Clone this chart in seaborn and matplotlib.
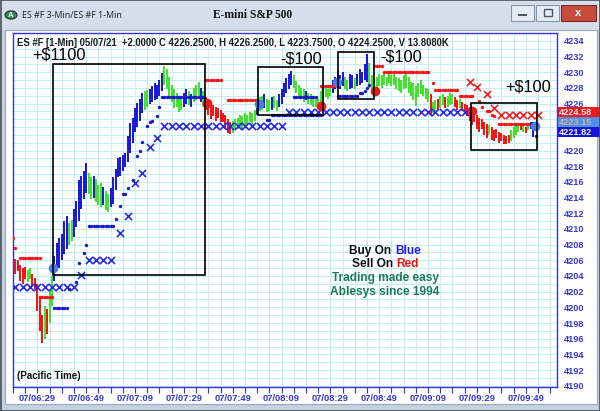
import numpy as np
import pandas as pd
import matplotlib
matplotlib.use("Agg")
import matplotlib.pyplot as plt
from matplotlib.patches import Rectangle, Circle
import seaborn as sns

# ---------------- data ----------------
# one-minute bars, minute 0 = 06:29
first_minute = -10
bar_colors = ("rrrrrrggrr" "rrrgrggbbb" "bbbggbbbbb" "bggbgggbgg" "bbbbbbbbbb"
              "bbbbggbbbb" "bbgggggggg" "bbgbgggbgr" "rrrrrrrrrr" "gggggggggg"
              "bggbggbggb" "bbbbbggggg" "bggggggggg" "gbbbbbggbb" "gbbbbbgggg"
              "gggggggggg" "gggggggggg" "grggrggrgg" "grrgrrrrrr" "rrrrrgrrrr"
              "rrrrggggrg" "rgbb")
bar_low = [
    4204.8, 4204.2, 4204.6, 4203.4, 4203.0, 4203.6, 4203.2, 4203.6, 4202.6, 4202.4,
    4199.5, 4197.0, 4195.4, 4196.0, 4196.6, 4198.0, 4200.2, 4203.4, 4204.6, 4205.0,
    4206.0, 4206.8, 4207.4, 4208.0, 4208.4, 4209.0, 4210.2, 4211.0, 4212.6, 4213.8,
    4214.6, 4214.4, 4213.8, 4214.0, 4213.4, 4213.0, 4212.8, 4213.0, 4212.4, 4212.2,
    4212.8, 4213.2, 4215.0, 4216.6, 4216.8, 4217.4, 4217.9, 4218.6, 4219.7, 4221.0,
    4222.4, 4223.0, 4223.8, 4224.8, 4225.2, 4225.6, 4226.0, 4226.2, 4226.4, 4226.6,
    4227.0, 4227.6, 4228.4, 4227.8, 4226.6, 4226.2, 4225.4, 4225.6, 4224.9, 4225.2,
    4225.6, 4226.0, 4225.8, 4225.6, 4226.2, 4226.4, 4226.8, 4226.2, 4225.6, 4225.2,
    4224.6, 4224.0, 4224.4, 4223.8, 4224.2, 4223.7, 4223.6, 4222.8, 4222.2, 4222.1,
    4222.3, 4222.6, 4222.8, 4223.0, 4222.8, 4223.2, 4223.4, 4223.6, 4223.2, 4223.8,
    4224.6, 4225.0, 4225.2, 4225.4, 4224.9, 4225.0, 4225.2, 4225.4, 4225.0, 4225.6,
    4226.0, 4226.8, 4227.4, 4227.8, 4228.4, 4228.0, 4227.4, 4226.8, 4226.6, 4226.2,
    4226.4, 4226.0, 4225.8, 4225.5, 4225.6, 4225.4, 4225.8, 4226.4, 4226.8, 4226.6,
    4227.0, 4227.4, 4227.8, 4228.0, 4227.8, 4228.2, 4227.8, 4227.6, 4227.8, 4228.0,
    4227.8, 4228.2, 4228.4, 4228.6, 4229.0, 4228.8, 4228.0, 4227.4, 4227.6, 4228.0,
    4228.2, 4228.0, 4228.4, 4228.2, 4228.6, 4228.2, 4228.4, 4227.8, 4227.6, 4227.4,
    4227.8, 4228.0, 4227.4, 4227.0, 4226.4, 4225.7, 4226.8, 4227.2, 4227.0, 4226.6,
    4226.2, 4224.6, 4224.8, 4225.0, 4225.2, 4225.4, 4225.8, 4225.4, 4225.6, 4225.8,
    4226.0, 4225.6, 4225.2, 4225.4, 4225.0, 4224.8, 4224.4, 4223.8, 4223.2, 4223.6,
    4222.8, 4222.4, 4222.8, 4222.0, 4221.6, 4222.0, 4221.4, 4221.2, 4221.6, 4221.0,
    4221.2, 4220.9, 4220.8, 4221.0, 4221.2, 4221.6, 4222.0, 4222.4, 4222.6, 4222.4,
    4222.2, 4222.6, 4222.8, 4221.7]
bar_high = [
    4207.0, 4206.2, 4206.0, 4205.4, 4205.0, 4205.2, 4204.8, 4205.0, 4204.2, 4203.8,
    4203.0, 4201.5, 4199.0, 4200.2, 4199.8, 4202.2, 4204.0, 4206.6, 4208.2, 4208.8,
    4209.4, 4211.0, 4211.6, 4210.8, 4211.2, 4212.6, 4213.6, 4216.2, 4216.8, 4217.4,
    4218.4, 4217.2, 4216.6, 4216.8, 4216.4, 4215.6, 4215.8, 4215.4, 4214.8, 4214.4,
    4215.2, 4216.6, 4217.6, 4219.0, 4219.2, 4219.4, 4219.7, 4221.8, 4223.5, 4224.2,
    4225.4, 4226.1, 4226.6, 4227.4, 4227.6, 4227.7, 4227.9, 4228.2, 4228.6, 4228.4,
    4229.0, 4229.9, 4230.8, 4230.4, 4229.4, 4228.4, 4227.8, 4227.4, 4226.6, 4226.8,
    4227.4, 4227.8, 4227.6, 4227.2, 4228.0, 4228.4, 4228.8, 4228.0, 4227.6, 4226.8,
    4226.6, 4226.0, 4225.8, 4225.6, 4225.4, 4225.2, 4224.8, 4224.6, 4224.0, 4223.6,
    4223.8, 4224.0, 4224.2, 4224.6, 4224.4, 4224.8, 4224.6, 4224.9, 4224.8, 4225.2,
    4226.6, 4226.8, 4227.0, 4227.2, 4226.6, 4226.4, 4226.8, 4227.0, 4226.4, 4227.2,
    4227.8, 4228.6, 4229.2, 4229.8, 4230.2, 4229.6, 4228.9, 4228.4, 4228.0, 4227.8,
    4227.6, 4227.4, 4227.2, 4226.8, 4227.0, 4226.6, 4227.6, 4228.0, 4228.2, 4227.8,
    4228.4, 4229.0, 4229.4, 4230.2, 4229.6, 4230.0, 4229.4, 4229.0, 4229.8, 4229.6,
    4229.2, 4229.8, 4230.4, 4230.0, 4231.0, 4232.3, 4231.2, 4229.6, 4229.2, 4229.4,
    4229.8, 4229.6, 4229.8, 4229.4, 4230.0, 4229.6, 4229.8, 4229.4, 4229.2, 4229.0,
    4229.6, 4230.0, 4229.4, 4228.8, 4228.6, 4228.2, 4228.6, 4229.0, 4228.4, 4228.0,
    4227.8, 4227.2, 4226.2, 4226.4, 4226.6, 4227.0, 4227.2, 4226.8, 4227.0, 4227.4,
    4227.2, 4226.8, 4226.4, 4226.6, 4226.2, 4226.0, 4225.8, 4225.6, 4225.2, 4225.0,
    4224.6, 4224.2, 4224.0, 4223.6, 4223.4, 4223.2, 4223.0, 4222.6, 4222.8, 4222.4,
    4222.2, 4222.0, 4221.8, 4222.0, 4222.6, 4223.0, 4223.4, 4223.4, 4223.4, 4223.2,
    4223.0, 4223.4, 4223.6, 4223.6]

# stop levels held flat over a run of minutes: (first, last, level)
blue_dot_runs = [(7, 12, 4199.9), (21, 31, 4210.4), (52, 68, 4226.8),
                 (96, 116, 4224.6), (105, 114, 4226.85), (123, 131, 4227.0)]
blue_dot_single = [(13, 4202.3), (16, 4203.2), (17, 4205.7), (19, 4206.9), (20, 4208.0),
                   (32, 4211.3), (34, 4212.9), (35, 4214.4), (36, 4214.5), (37, 4215.2),
                   (39, 4216.3), (41, 4219.3), (42, 4219.9), (43, 4221.1), (45, 4223.1),
                   (46, 4223.6), (47, 4223.8), (49, 4224.4), (50, 4225.5), (51, 4226.8),
                   (94, 4223.9), (95, 4223.9), (132, 4227.3), (133, 4227.3),
                   (134, 4227.6), (135, 4228.0), (136, 4228.4), (204, 4221.82)]
red_dot_runs = [(-7, 1, 4206.3), (1, 6, 4201.3), (69, 75, 4229.0), (78, 90, 4226.5),
                (116, 122, 4228.3), (138, 141, 4230.8), (142, 160, 4230.0),
                (163, 172, 4227.7), (173, 178, 4226.9), (189, 201, 4223.4)]
red_dot_single = [(-10, 4208.9), (-9, 4207.6), (162, 4228.6), (181, 4226.3),
                  (182, 4225.5), (184, 4225.1), (185, 4225.0), (186, 4224.5), (187, 4224.4)]
# 3-minute stop markers: (first, last, level), one every 3 minutes
blue_x_runs = [(-9, 15, 4202.6), (21, 30, 4206.0), (52, 100, 4223.1), (103, 175, 4224.9)]
blue_x_single = [(18, 4204.1), (34, 4209.5), (37, 4211.6), (40, 4215.9), (43, 4217.2),
                 (46, 4220.4), (49, 4221.6)]
red_x_runs = [(190, 205, 4224.58)]
red_x_single = [(177, 4228.8), (180, 4228.1), (184, 4227.2), (187, 4225.4)]

# trade signals
buy_minute = [6.55, 90.9, 122.6, 203.8]
buy_price = [4205.06, 4225.92, 4228.8, 4223.15]
sell_minute = [69.4, 116.05, 138.3, 177.8]
sell_price = [4226.05, 4225.74, 4227.6, 4225.0]

# trade boxes: (start minute, end minute, low, high, result)
trades = [(6.55, 68.7, 4204.13, 4231.06, "+$1100"),
          (90.25, 116.87, 4224.55, 4230.6, "-$100"),
          (123.0, 138.0, 4226.6, 4232.56, "-$100"),
          (177.5, 204.5, 4220.08, 4226.05, "+$100")]
trade_label_pos = [(8.9, 4232.2), (108.2, 4231.7), (149.1, 4231.9), (201.1, 4228.06)]

x_tick_minutes = [0, 20, 40, 60, 80, 100, 120, 140, 160, 180, 200]
x_tick_labels = ["07/06:29", "07/06:49", "07/07:09", "07/07:29", "07/07:49", "07/08:09",
                 "07/08:29", "07/08:49", "07/09:09", "07/09:29", "07/09:49"]
y_ticks = list(range(4190, 4235, 2))

tag_values = [4224.58, 4223.15, 4221.82]

# ---------------- style ----------------
sns.set_theme(style="white")
plt.rcParams["font.family"] = ["Liberation Sans", "DejaVu Sans"]

W, H = 600, 411
fig = plt.figure(figsize=(6, 4.11), dpi=100)
fig.patch.set_facecolor("#c4d1e0")


def fx(x):
    return x / W


def fy(y):
    return 1 - y / H


def fig_rect(x0, y0, x1, y1, z=-1, **kw):
    r = Rectangle((fx(x0), fy(y1)), (x1 - x0) / W, (y1 - y0) / H,
                  transform=fig.transFigure, zorder=z, **kw)
    fig.add_artist(r)
    return r


# window frame
fig_rect(0, 0, 600, 30, facecolor="#d4dfeb", edgecolor="none")
fig_rect(5, 30, 597, 404, facecolor="white", edgecolor="#9aa8ba", linewidth=0.8)
fig_rect(0.5, 0.5, 599.5, 410.5, facecolor="none", edgecolor="#4a4f58", linewidth=1.2, z=10)

# title bar
fig.add_artist(Circle((fx(11), fy(15)), 6 / W, transform=fig.transFigure,
                      facecolor="#2f8f55", edgecolor="#2a2a2a", lw=0.8, zorder=3))
fig.text(fx(11), fy(15.5), "A", fontsize=5.5, color="white", ha="center", va="center",
         fontweight="bold", zorder=4)
fig.text(fx(22), fy(15), "ES #F 3-Min/ES #F 1-Min", fontsize=6.4, color="#1e1e1e",
         ha="left", va="center", family=["Open Sans", "DejaVu Sans"])
fig.text(fx(253), fy(15), "E-mini S&P 500", fontsize=8.3, color="#111111",
         ha="center", va="center", fontweight="bold", family=["Liberation Serif", "DejaVu Serif"])
for (b0, b1, fc, ec) in [(511, 534, "#e4ebf3", "#8796ab"), (536, 559, "#e4ebf3", "#8796ab"),
                         (561, 596, "#c94b3f", "#7d2b25")]:
    fig_rect(b0, 5, b1, 21, facecolor=fc, edgecolor=ec, linewidth=0.8, z=3)
fig_rect(518, 14, 527, 16.5, facecolor="#4b5563", edgecolor="none", z=4)
fig_rect(543.5, 9.5, 551.5, 16.5, facecolor="none", edgecolor="#4b5563", linewidth=1.0, z=4)
fig.text(fx(578.5), fy(13.5), "x", fontsize=8, color="white", ha="center", va="center",
         fontweight="bold", zorder=5)

# ---------------- chart ----------------
blue_axis = "#3434d2"
grid_c = "#c2eef4"
ax = fig.add_axes([fx(12.7), fy(386.5), (557 - 12.7) / W, (386.5 - 33) / H])
ax.set_facecolor("white")

# price bars (crisp one-pixel strokes)
palette = {"r": "#f41515", "g": "#44e032", "b": "#1c1cd8"}
minutes = np.arange(first_minute, first_minute + len(bar_low))
bars = pd.DataFrame({"minute": minutes, "low": bar_low, "high": bar_high,
                     "color": [palette[c] for c in bar_colors]})
ax.vlines(bars["minute"], bars["low"], bars["high"], colors=bars["color"], lw=1.2,
          antialiased=False, zorder=2)


def expand(runs, singles, step=1):
    xs, ys = [], []
    for a, b, lvl in runs:
        for m in range(a, b + 1, step):
            xs.append(m)
            ys.append(lvl)
    for m, lvl in singles:
        xs.append(m)
        ys.append(lvl)
    return pd.DataFrame({"minute": xs, "price": ys})


bd = expand(blue_dot_runs, blue_dot_single)
rd = expand(red_dot_runs, red_dot_single)
bx = expand(blue_x_runs, blue_x_single, 3)
rx = expand(red_x_runs, red_x_single, 3)

sns.scatterplot(data=bx, x="minute", y="price", ax=ax, marker="x", s=26, linewidth=1.2,
                color="#2a2ae0", legend=False, zorder=3)
sns.scatterplot(data=rx, x="minute", y="price", ax=ax, marker="x", s=26, linewidth=1.2,
                color="#f02020", legend=False, zorder=3)
sns.scatterplot(data=bd, x="minute", y="price", ax=ax, marker="o", s=6, linewidth=0,
                color="#1a1ac8", legend=False, zorder=4)
sns.scatterplot(data=rd, x="minute", y="price", ax=ax, marker="o", s=6, linewidth=0,
                color="#f01818", legend=False, zorder=4)
sns.scatterplot(x=buy_minute, y=buy_price, ax=ax, marker="o", s=48, linewidth=0,
                color="#4a7fe6", legend=False, zorder=5)
sns.scatterplot(x=sell_minute, y=sell_price, ax=ax, marker="o", s=48, linewidth=0,
                color="#e81a1a", legend=False, zorder=5)

for (m0, m1, lo, hi, label), (lx, ly) in zip(trades, trade_label_pos):
    ax.add_patch(Rectangle((m0, lo), m1 - m0, hi - lo, fill=False, edgecolor="black",
                           linewidth=1.2, zorder=6))
    ax.text(lx, ly, label, fontsize=11.8, color="black", ha="center", va="center", zorder=7)

ax.set_xlabel("")
ax.set_ylabel("")
ax.set_xlim(-10.1, 212.8)
ax.set_ylim(4189.9, 4235.0)

# scale labels; the two levels under the value tags stay blank
ax.set_xticks(x_tick_minutes, x_tick_labels)
ax.set_xticks(np.arange(-10, 211, 5), minor=True)
ax.set_yticks(y_ticks, ["" if v in (4222, 4224) else str(v) for v in y_ticks])
ax.set_yticks(np.arange(4190, 4236, 1), minor=True)
ax.yaxis.tick_right()
ax.grid(True, which="both", color=grid_c, linewidth=0.75)
ax.set_axisbelow(True)
ax.tick_params(axis="x", which="both", direction="out", length=4, width=0.8,
               color=blue_axis, labelsize=6.7, labelcolor=blue_axis, pad=1.5, bottom=True)
ax.tick_params(axis="y", which="both", length=0, labelsize=6.6, labelcolor="#3a3ad0", pad=5.3)
for t in ax.get_xticklabels() + ax.get_yticklabels():
    t.set_fontweight("bold")
for s in ax.spines.values():
    s.set_color(blue_axis)
    s.set_linewidth(1.0)

# header line and notes
fig.text(fx(17), fy(42.5),
         "ES #F [1-Min] 05/07/21  +2.0000 C 4226.2500, H 4226.2500, L 4223.7500, O 4224.2500, V 13.8080K",
         fontsize=6.85, fontweight="bold", color="#1a1a1a", ha="left", va="center", zorder=8)
fig.text(fx(16.7), fy(376), "(Pacific Time)", fontsize=7.0, fontweight="bold",
         color="#111111", ha="left", va="center", zorder=8)

renderer = fig.canvas.get_renderer()


def centered_pieces(xc, yc, pieces, size):
    texts, widths = [], []
    for s, c in pieces:
        t = fig.text(0, fy(yc), s, fontsize=size, fontweight="bold", color=c,
                     ha="left", va="center", zorder=8)
        texts.append(t)
        widths.append(t.get_window_extent(renderer).width)
    x = xc - sum(widths) / 2
    for t, w in zip(texts, widths):
        t.set_x(fx(x))
        x += w


note_green = "#1e7a5a"
centered_pieces(385, 251, [("Buy On ", "#111111"), ("Blue", "#2020ee")], 8.6)
centered_pieces(385, 264, [("Sell On ", "#111111"), ("Red", "#ee1111")], 8.6)
centered_pieces(385, 278, [("Trading made easy", note_green)], 8.6)
centered_pieces(385, 291.5, [("Ablesys since 1994", note_green)], 8.6)

# last-value tags on the price scale
tag_styles = [("#ec1a1a", "#ffe6e6"), ("#4f8ef0", "#c9b48e"), ("#1414dc", "#f2f0c2")]
tag_top = [107, 116.8, 126.8]
for v, (bg, fg), top in zip(tag_values, tag_styles, tag_top):
    fig_rect(557.5, top, 600, top + 10, z=6, facecolor=bg, edgecolor="none")
    fig.text(fx(559), fy(top + 5.2), f"{v:.2f}", fontsize=6.6, fontweight="bold",
             color=fg, ha="left", va="center", zorder=7)

fig.savefig("out.png", dpi=100, facecolor=fig.get_facecolor())
